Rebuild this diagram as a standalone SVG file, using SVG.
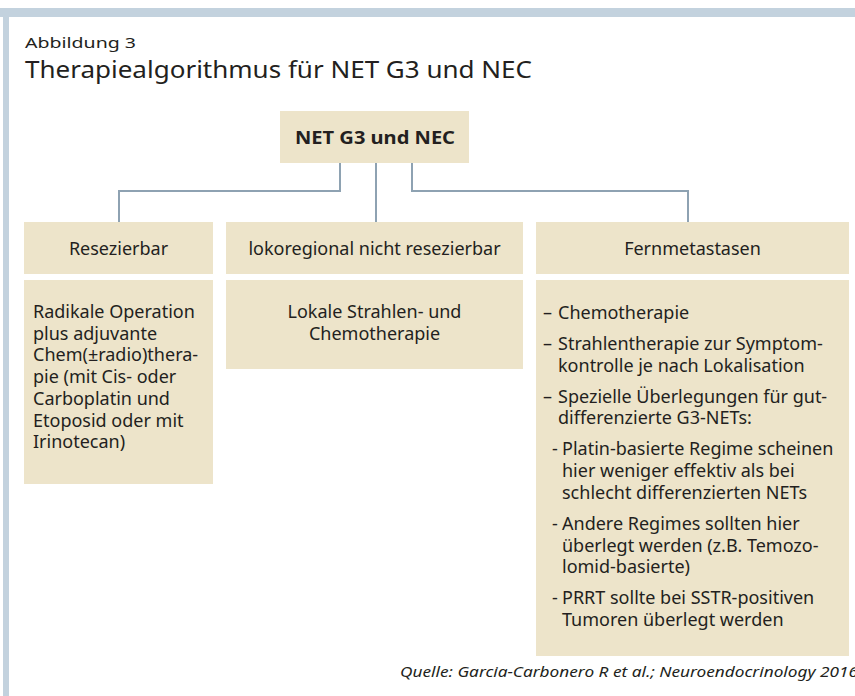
<svg xmlns="http://www.w3.org/2000/svg" width="855" height="696" viewBox="0 0 855 696">
<style>
.box{fill:#ede4ca}
.band{fill:#c3d2de}
.t{font-family:"Noto Sans","Open Sans","Liberation Sans",sans-serif;fill:#231f20;font-size:18px}
.c{text-anchor:middle}
.b{font-weight:bold}
.conn{fill:none;stroke:#8ea2b2;stroke-width:2}
</style>
<rect width="855" height="696" fill="#ffffff"/>
<rect class="band" x="0" y="8" width="855" height="9"/>
<rect class="band" x="3" y="8" width="6" height="688"/>
<text class="t" x="25" y="48" style="font-size:15px" textLength="111" lengthAdjust="spacingAndGlyphs">Abbildung 3</text>
<text class="t" x="25" y="78" style="font-size:23px" textLength="507" lengthAdjust="spacingAndGlyphs">Therapiealgorithmus für NET G3 und NEC</text>
<g id="connectors">
<path class="conn" d="M340 163V191H119V222"/>
<path class="conn" d="M376 163V222"/>
<path class="conn" d="M412 163V191H688V222"/>
</g>
<g id="root">
<rect class="box" x="280" y="111" width="189" height="52"/>
<text class="t c b" x="375" y="144" textLength="160" lengthAdjust="spacingAndGlyphs">NET G3 und NEC</text>
</g>
<g id="resezierbar">
<rect class="box" x="24" y="222" width="189" height="52"/>
<text class="t c" x="118.5" y="255">Resezierbar</text>
</g>
<g id="lokoregional">
<rect class="box" x="226" y="222" width="297" height="52"/>
<text class="t c" x="374.5" y="255">lokoregional nicht resezierbar</text>
</g>
<g id="fernmetastasen">
<rect class="box" x="536" y="222" width="313" height="52"/>
<text class="t c" x="692.5" y="255">Fernmetastasen</text>
</g>
<g id="resezierbar-therapie">
<rect class="box" x="24" y="280" width="189" height="204"/>
<text class="t" x="33" y="318">Radikale Operation</text>
<text class="t" x="33" y="339.7">plus adjuvante</text>
<text class="t" x="33" y="361.4">Chem(±radio)thera-</text>
<text class="t" x="33" y="383.1">pie (mit Cis- oder</text>
<text class="t" x="33" y="404.8">Carboplatin und</text>
<text class="t" x="33" y="426.5">Etoposid oder mit</text>
<text class="t" x="33" y="448.2">Irinotecan)</text>
</g>
<g id="lokoregional-therapie">
<rect class="box" x="226" y="280" width="297" height="89"/>
<text class="t c" x="374.5" y="318">Lokale Strahlen- und</text>
<text class="t c" x="374.5" y="339.7">Chemotherapie</text>
</g>
<g id="fernmetastasen-therapie">
<rect class="box" x="536" y="280" width="313" height="376"/>
<text class="t" x="543" y="319">–</text><text class="t" x="558" y="319">Chemotherapie</text>
<text class="t" x="543" y="350">–</text><text class="t" x="558" y="350">Strahlentherapie zur Symptom-</text>
<text class="t" x="558" y="371.7">kontrolle je nach Lokalisation</text>
<text class="t" x="543" y="402.7">–</text><text class="t" x="558" y="402.7">Spezielle Überlegungen für gut-</text>
<text class="t" x="558" y="424.4">differenzierte G3-NETs:</text>
<text class="t" x="552" y="455.4">-</text><text class="t" x="562" y="455.4">Platin-basierte Regime scheinen</text>
<text class="t" x="562" y="477.1">hier weniger effektiv als bei</text>
<text class="t" x="562" y="498.8">schlecht differenzierten NETs</text>
<text class="t" x="552" y="529.8">-</text><text class="t" x="562" y="529.8">Andere Regimes sollten hier</text>
<text class="t" x="562" y="551.5">überlegt werden (z.B. Temozo-</text>
<text class="t" x="562" y="573.2">lomid-basierte)</text>
<text class="t" x="552" y="604.2">-</text><text class="t" x="562" y="604.2">PRRT sollte bei SSTR-positiven</text>
<text class="t" x="562" y="625.9">Tumoren überlegt werden</text>
</g>
<text class="t" x="400" y="677" style="font-size:15px;font-style:italic" textLength="458" lengthAdjust="spacingAndGlyphs">Quelle: Garcia-Carbonero R et al.; Neuroendocrinology 2016</text>
</svg>
